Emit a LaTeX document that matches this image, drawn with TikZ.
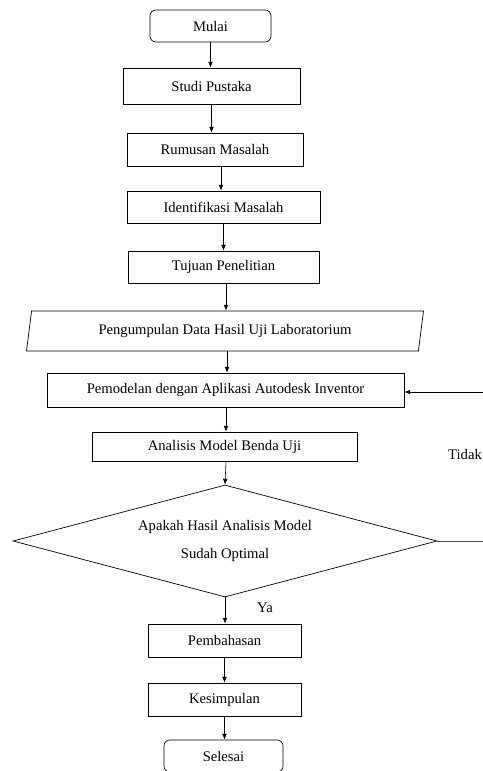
\documentclass[tikz,border=0pt]{standalone}
\usepackage{fontspec}
\setmainfont{Liberation Serif}
\usepackage{tikz}
\usetikzlibrary{arrows.meta, positioning, shapes.geometric}

\begin{document}
\begin{tikzpicture}[
        x=0.03cm, y=-0.03cm,
        every node/.style={font=\fontsize{12.5}{15}\selectfont},
        terminal/.style={draw, rounded corners=5pt, line width=0.6pt,
            minimum width=3.63cm, minimum height=0.96cm, inner sep=0pt},
        prosesbox/.style={draw, line width=0.6pt, minimum height=0.99cm, inner sep=0pt},
        databox/.style={draw, trapezium, trapezium left angle=76, trapezium right angle=104,
            trapezium stretches=true, line width=0.6pt,
            minimum width=11.94cm, minimum height=1.2cm, inner sep=0pt},
        keputusanbox/.style={draw, diamond, shape aspect=3.8, line width=0.6pt, align=center,
            minimum width=12.72cm, minimum height=3.36cm, inner sep=0pt},
        panah/.style={-{Latex[length=5pt, width=4pt]}, line width=0.5pt},
        garis/.style={line width=0.5pt, color=black!70},
    ]
        \useasboundingbox (0,0) rectangle (483,771);
        \clip (0,0) rectangle (483,771);

        % Awal
        \node[terminal] (mulai) at (210.5,26) {Mulai};

        % Proses
        \node[prosesbox, minimum width=5.31cm, minimum height=1.08cm] (studi) at (211.5,86) {Studi Pustaka};
        \node[prosesbox, minimum width=5.28cm] (rumusan) at (215,149.5) {Rumusan Masalah};
        \node[prosesbox, minimum width=5.79cm, minimum height=0.96cm] (identifikasi) at (223.5,207) {Identifikasi Masalah};
        \node[prosesbox, minimum width=5.73cm, minimum height=0.96cm] (tujuan) at (223.5,267) {Tujuan Penelitian};

        % Data
        \node[databox] (pengumpulan) at (225,331) {Pengumpulan Data Hasil Uji Laboratorium};

        \node[prosesbox, minimum width=10.71cm, minimum height=1.02cm] (pemodelan) at (225.5,390) {Pemodelan dengan Aplikasi Autodesk Inventor};
        \node[prosesbox, minimum width=7.95cm, minimum height=0.87cm] (analisis) at (224.5,446.5) {Analisis Model Benda Uji};

        % Keputusan
        \node[keputusanbox] (keputusan) at (225,541)
            {Apakah Hasil Analisis Model\\[9pt] Sudah Optimal};

        \node[prosesbox, minimum width=4.59cm] (pembahasan) at (224.5,640.5) {Pembahasan};
        \node[prosesbox, minimum width=4.59cm] (kesimpulan) at (224.5,699.5) {Kesimpulan};

        % Akhir
        \node[terminal, minimum width=3.57cm] (selesai) at (223.5,756) {Selesai};

        % Label
        \node (tidak) at (465,454) {Tidak};
        \node (ya) at (265,608) {Ya};

        % Panah
        \draw[panah] (mulai.south) -- (mulai.south |- studi.north);
        \draw[panah] (studi.south) -- (studi.south |- rumusan.north);
        \draw[panah] (rumusan.south -| 221,0) -- (221,0 |- identifikasi.north);
        \draw[panah] (identifikasi.south) -- (identifikasi.south |- tujuan.north);
        \draw[panah] (tujuan.south -| 226,0) -- (226,0 |- pengumpulan.north);
        \draw[panah] (pengumpulan.south -| 227,0) -- (227,0 |- pemodelan.north);
        \draw[panah] (pemodelan.south -| 226,0) -- (226,0 |- analisis.north);
        \draw[panah] (analisis.south -| 226,0) -- (keputusan.north);
        \draw[panah] (keputusan.south) -- (keputusan.south |- pembahasan.north);
        \draw[panah] (pembahasan.south) -- (pembahasan.south |- kesimpulan.north);
        \draw[panah] (kesimpulan.south) -- (kesimpulan.south |- selesai.north);

        % Umpan balik
        \coordinate (tidakA) at (483,541);
        \coordinate (tidakB) at (483,392);
        \draw[garis] (keputusan.east) -- (tidakA);
        \draw[panah] (tidakB) -- (pemodelan.east |- tidakB);

    \end{tikzpicture}
\end{document}
